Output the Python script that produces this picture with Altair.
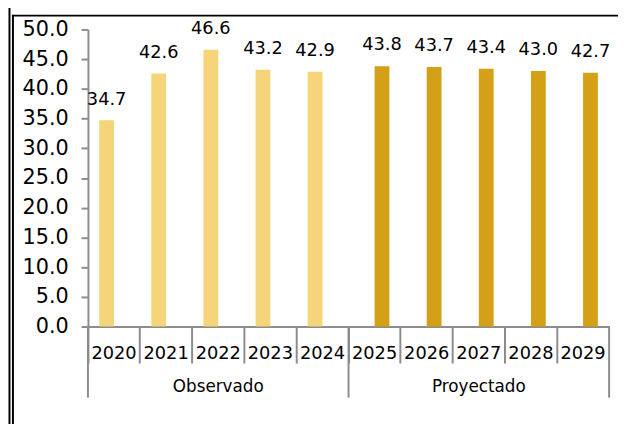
import altair as alt
import pandas as pd

years = ["2020", "2021", "2022", "2023", "2024", "2025", "2026", "2027", "2028", "2029"]
values = [34.7, 42.6, 46.6, 43.2, 42.9, 43.8, 43.7, 43.4, 43.0, 42.7]
series = ["Observado"] * 5 + ["Proyectado"] * 5

groups = ["Observado", "Proyectado"]
group_mid_year = ["2022", "2027"]
group_start_year = ["2020", "2025"]
group_end_year = ["2029"]

y_ticks = [0, 5, 10, 15, 20, 25, 30, 35, 40, 45, 50]

LIGHT = "#F5D47A"
DARK = "#D4A017"
GRAY = "#8C8C8C"
FONT = "DejaVu Sans"

df = pd.DataFrame({"year": years, "value": values, "series": series})
gdf = pd.DataFrame({"group": groups, "year": group_mid_year})
sdf = pd.DataFrame({"year": group_start_year})
edf = pd.DataFrame({"year": group_end_year})
one = pd.DataFrame({"k": [0]})

xscale = alt.Scale(domain=years, paddingInner=0, paddingOuter=0)
yscale = alt.Scale(domain=[0, 50], nice=False, zero=True)
xoff_scale = alt.Scale(domain=groups, paddingInner=0, paddingOuter=0.76)

x_axis = alt.Axis(
    title=None,
    labelAngle=0,
    bandPosition=0,
    tickSize=37,
    tickColor=GRAY,
    tickWidth=2,
    domainColor=GRAY,
    domainWidth=2,
    labelFontSize=18,
    labelFont=FONT,
    labelColor="black",
    labelPadding=-19,
    labelOverlap=False,
)

y_axis = alt.Axis(
    title=None,
    values=y_ticks,
    format=".1f",
    grid=False,
    tickSize=7,
    tickColor=GRAY,
    tickWidth=2,
    domainColor=GRAY,
    domainWidth=2,
    labelFontSize=21,
    labelFont=FONT,
    labelColor="black",
    labelPadding=13,
    labelOverlap=False,
)

base = alt.Chart(df)

bars = base.mark_bar().encode(
    x=alt.X("year:N", scale=xscale, axis=x_axis),
    xOffset=alt.XOffset("series:N", scale=xoff_scale),
    y=alt.Y("value:Q", scale=yscale, axis=y_axis),
    color=alt.Color(
        "series:N",
        scale=alt.Scale(domain=groups, range=[LIGHT, DARK]),
        legend=None,
    ),
)

labels = base.mark_text(
    baseline="bottom", dy=-12, fontSize=18, font=FONT, color="black"
).encode(
    x=alt.X("year:N", scale=xscale, axis=x_axis),
    xOffset=alt.XOffset("series:N", scale=xoff_scale),
    y=alt.Y("value:Q", scale=yscale, axis=y_axis),
    text=alt.Text("value:Q", format=".1f"),
)

group_labels = alt.Chart(gdf).mark_text(
    baseline="middle", fontSize=17, font=FONT, color="black"
).encode(
    x=alt.X("year:N", scale=xscale, axis=x_axis),
    y=alt.value(362),
    text="group:N",
)

start_rules = alt.Chart(sdf).mark_rule(color=GRAY, strokeWidth=2).encode(
    x=alt.X("year:N", scale=xscale, bandPosition=0, axis=x_axis),
    y=alt.value(301),
    y2=alt.value(373),
)

end_rules = alt.Chart(edf).mark_rule(color=GRAY, strokeWidth=2).encode(
    x=alt.X("year:N", scale=xscale, bandPosition=1, axis=x_axis),
    y=alt.value(301),
    y2=alt.value(373),
)

# decorative frame lines
frame_left_inner = alt.Chart(one).mark_rect(color="black").encode(
    x=alt.value(-77), x2=alt.value(-75), y=alt.value(-15), y2=alt.value(400)
)
frame_left_outer = alt.Chart(one).mark_rect(color="black").encode(
    x=alt.value(-80.5), x2=alt.value(-78.5), y=alt.value(-30), y2=alt.value(400)
)
frame_top = alt.Chart(one).mark_rect(color="black").encode(
    x=alt.value(-77), x2=alt.value(540), y=alt.value(-15), y2=alt.value(-13)
)

chart = alt.layer(
    bars, labels, group_labels, start_rules, end_rules,
    frame_left_outer, frame_left_inner, frame_top,
).properties(
    width=528,
    height=301,
    autosize=alt.AutoSizeParams(type="none"),
    padding={"left": 81, "top": 19, "right": 9, "bottom": 96},
).configure_view(stroke=None)

chart.save("out.html", embed_options={"renderer": "svg", "actions": False})
